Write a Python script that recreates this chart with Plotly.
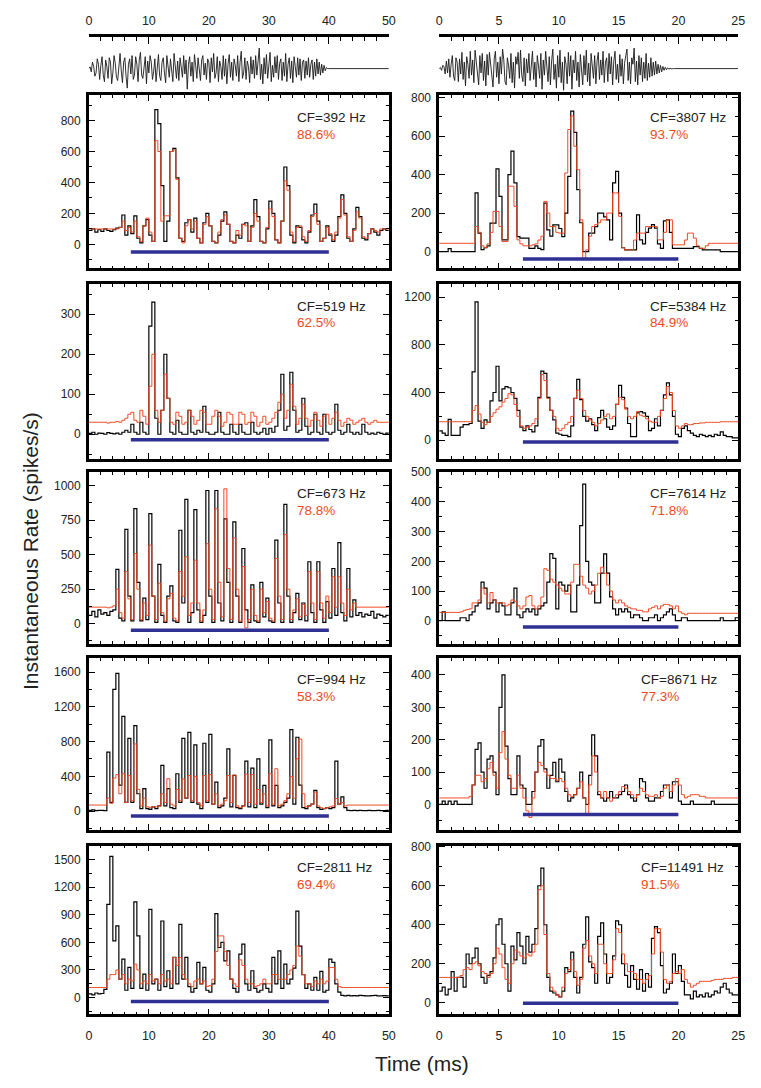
import numpy as np
import plotly.graph_objects as go

FONT = "Liberation Sans, Arial, sans-serif"
RED = "#F04A24"
BLUE = "#2E3192"

# ---------------- data ----------------
cf_left = ["CF=392 Hz", "CF=519 Hz", "CF=673 Hz", "CF=994 Hz", "CF=2811 Hz"]
pct_left = ["88.6%", "62.5%", "78.8%", "58.3%", "69.4%"]
cf_right = ["CF=3807 Hz", "CF=5384 Hz", "CF=7614 Hz", "CF=8671 Hz", "CF=11491 Hz"]
pct_right = ["93.7%", "84.9%", "71.8%", "77.3%", "91.5%"]

bin_left = 0.5   # ms
bin_right = 0.25  # ms
stim_bar_left = [7, 40]
stim_bar_right = [7, 20]

L1_black = [90,100,80,95,85,100,90,85,95,105,
            110,190,60,120,70,185,40,10,120,160,
            60,20,870,780,380,20,150,600,620,430,
            40,20,140,160,80,170,40,10,140,200,
            120,20,10,60,150,210,130,20,10,60,
            40,130,140,20,120,290,180,20,10,100,
            280,200,30,10,150,500,380,60,10,120,
            110,30,10,80,190,260,150,20,40,120,
            60,20,60,180,320,200,40,20,100,240,
            180,40,30,70,100,80,60,90,100,90]
L1_red = [100,100,100,100,100,100,100,100,100,100,
          110,150,90,110,80,150,50,20,120,170,
          80,20,670,600,150,185,185,600,610,420,
          40,10,120,160,100,150,40,10,130,180,
          120,20,10,80,160,190,130,20,10,90,
          60,130,120,20,110,200,150,20,10,110,
          230,180,30,10,150,410,350,80,20,110,
          120,50,20,90,180,200,130,20,40,110,
          70,30,80,170,290,190,50,20,90,210,
          170,50,40,70,100,90,80,100,100,100]

L2_black = [2,5,0,3,2,0,4,2,1,3,
            0,5,10,5,25,5,0,30,5,0,
            270,330,40,0,60,200,90,5,0,35,
            5,0,0,60,5,0,10,5,70,5,
            0,0,5,55,5,0,0,25,5,0,
            25,5,0,0,30,5,0,5,15,0,
            15,5,20,60,150,10,20,155,60,5,
            10,90,20,0,5,50,5,0,50,5,
            0,5,75,10,0,5,25,5,0,5,
            0,25,5,0,3,0,5,2,0,3]
L2_red = [30,30,30,30,30,30,28,30,30,32,
          30,35,40,50,55,35,30,60,45,25,
          120,200,60,30,60,150,90,30,25,55,
          45,25,30,60,45,25,35,60,55,25,
          25,45,60,45,20,30,55,50,25,25,
          55,50,25,30,55,45,20,30,45,25,
          30,40,55,80,100,40,60,125,70,25,
          40,75,40,20,35,55,35,20,45,50,
          25,40,55,35,20,30,40,35,25,30,
          35,40,30,25,30,35,30,30,30,30]

L3_black = [60,90,50,100,70,80,60,90,100,394,
            40,20,684,200,20,833,300,20,185,30,
            797,200,10,430,60,10,200,274,20,10,
            677,150,900,10,80,826,100,10,60,965,
            200,10,965,150,20,760,300,10,737,200,
            10,545,100,10,281,20,10,300,50,185,
            20,10,605,150,10,864,200,10,80,220,
            30,150,20,449,80,10,449,100,10,160,
            40,400,60,588,80,20,400,50,173,60,
            80,50,70,60,90,40,70,60,50,60]
L3_red = [120,120,120,120,120,120,115,120,130,250,
          80,40,377,180,30,508,250,30,150,60,
          569,200,30,293,80,20,180,220,40,20,
          377,200,485,60,150,460,150,20,100,580,
          250,30,833,300,50,977,400,30,622,250,
          20,413,-30,30,250,60,20,250,80,160,
          40,20,473,200,30,645,250,30,100,180,
          50,140,60,377,150,30,377,150,40,200,
          80,340,120,340,150,60,250,100,150,120,
          120,120,120,120,120,120,120,120,120,120]

L4_black = [10,15,5,10,10,5,678,100,1400,1585,
            300,1090,100,838,100,983,200,30,260,30,
            20,50,30,60,526,60,260,40,30,430,
            100,838,150,907,100,762,80,30,781,100,
            884,80,335,40,60,150,716,50,411,40,
            30,60,575,50,495,40,602,80,297,40,
            819,60,297,40,60,100,150,937,80,850,
            300,40,30,60,80,240,40,20,30,40,
            30,40,575,80,164,40,10,5,10,5,
            10,5,5,10,5,5,10,5,5,10]
L4_red = [70,70,70,70,70,70,150,90,380,420,
          200,430,100,410,120,773,250,60,150,50,
          40,50,50,60,200,100,373,80,60,250,
          120,370,150,410,120,400,100,60,410,120,
          420,80,200,60,80,120,410,100,415,60,
          40,60,425,100,420,80,250,100,200,60,
          430,80,488,60,80,120,200,400,150,602,
          830,200,50,60,80,220,60,40,30,40,
          50,60,145,80,100,60,70,70,70,70,
          70,70,70,70,70,70,70,70,70,70]

L5_black = [40,30,50,40,45,90,1012,1534,616,778,
            200,418,80,328,100,1040,670,100,256,80,
            958,150,200,80,832,120,292,100,436,150,
            796,200,436,120,60,100,382,150,328,80,
            60,150,911,544,600,400,508,200,100,60,
            472,580,150,80,292,100,60,80,150,100,
            60,436,150,508,100,364,150,200,320,940,
            560,250,100,150,80,220,80,284,60,80,
            418,382,150,60,25,20,25,20,22,20,
            25,22,20,20,22,25,20,20,22,20]
L5_red = [110,110,110,110,110,110,200,250,250,300,
          200,250,150,200,180,364,300,150,180,150,
          250,180,200,150,250,180,200,150,436,350,
          436,250,200,150,120,180,200,150,180,120,
          130,200,500,670,670,500,350,200,150,120,
          410,350,200,150,150,120,130,150,200,150,
          150,250,250,200,200,200,250,300,350,560,
          450,250,150,150,120,180,150,200,150,180,
          328,328,200,120,110,110,110,110,110,110,
          110,110,110,110,110,110,110,110,110,110]

R1_black = [0,0,0,15,0,0,0,0,0,0,
            0,0,305,96,10,20,30,148,148,430,
            287,61,61,400,522,357,78,70,70,70,
            17,17,30,17,10,252,113,80,139,139,
            120,78,200,391,730,620,322,150,0,0,
            96,96,130,200,200,180,165,61,357,417,
            200,20,9,9,9,9,191,61,40,100,
            122,140,122,40,17,160,165,100,17,17,
            17,17,17,17,17,26,26,17,9,9,
            9,9,9,9,0,0,0,0,0,0]
R1_red = [43,43,43,43,43,43,43,43,43,43,
          43,43,130,100,30,20,40,100,209,209,
          130,52,52,340,340,235,61,40,30,30,
          30,35,40,60,80,261,200,130,130,100,
          96,96,409,635,705,548,426,165,-35,9,
          80,130,140,150,165,165,200,200,305,305,
          183,20,9,9,9,60,96,96,96,130,
          130,130,130,61,61,100,165,165,35,35,
          35,35,60,96,96,70,30,17,17,30,
          43,43,43,43,43,43,43,43,43,43]

R2_black = [78,60,40,175,40,40,40,110,130,130,
            140,573,1160,160,100,170,150,330,400,620,
            330,430,450,440,400,350,250,110,80,120,
            90,70,120,360,580,560,360,250,170,60,
            50,40,40,30,120,350,510,340,200,160,
            180,130,80,190,250,180,110,90,120,300,
            460,360,270,140,30,30,230,240,230,200,
            80,100,180,120,250,380,480,380,200,50,
            30,100,120,80,60,40,30,50,40,30,
            40,30,50,40,70,40,30,30,20,20]
R2_red = [155,155,155,155,155,155,155,155,155,155,
          155,250,290,220,150,130,150,200,230,260,
          280,320,350,390,380,300,200,120,100,110,
          120,140,180,350,550,500,350,250,200,100,
          80,100,130,150,200,350,420,350,250,200,
          170,150,120,140,170,200,220,180,200,300,
          360,340,260,200,180,200,240,210,200,180,
          160,150,150,200,250,350,450,400,250,120,
          100,120,140,130,130,140,140,145,145,150,
          150,150,150,150,155,155,155,155,155,155]

R3_black = [0,30,0,0,0,0,0,10,10,0,
            20,30,50,60,130,110,40,60,70,30,
            60,50,20,20,60,110,20,10,30,40,
            30,40,20,40,50,60,130,226,210,40,
            130,120,100,120,30,30,120,320,460,200,
            130,120,60,60,160,225,160,80,40,20,
            40,30,40,30,10,20,20,10,0,0,
            10,10,20,0,10,20,30,40,20,0,
            0,10,10,0,0,0,0,0,0,0,
            0,0,0,0,10,0,0,0,0,10]
R3_red = [28,28,28,28,28,28,28,30,35,38,
          40,60,60,70,110,90,60,95,70,60,
          60,60,50,55,70,65,50,40,50,80,
          85,50,40,50,80,175,170,140,130,120,
          110,100,90,90,130,190,190,150,120,110,
          90,100,120,160,180,160,120,100,70,60,
          70,60,50,45,40,40,35,35,30,30,
          40,45,50,40,50,55,55,50,40,50,
          30,25,20,25,25,25,25,25,25,25,
          25,25,25,25,25,25,25,25,25,25]

R4_black = [0,10,0,10,0,10,0,0,0,0,
            0,60,170,190,100,50,140,150,100,30,
            300,400,180,80,30,30,150,60,50,0,
            0,40,100,180,200,110,50,90,130,70,
            140,100,40,10,20,30,50,100,20,0,
            90,215,150,30,20,10,20,40,20,20,
            30,40,60,30,20,10,30,80,70,20,
            10,10,20,20,40,60,60,20,70,70,
            10,0,0,0,10,0,0,0,0,0,
            0,10,0,0,0,0,0,0,0,0]
R4_red = [20,20,20,20,20,20,20,20,20,20,
          25,60,90,90,70,80,110,130,90,50,
          160,225,140,90,50,50,90,50,20,-20,
          -40,20,100,130,120,100,90,80,80,75,
          80,70,50,30,25,30,50,70,20,-30,
          60,150,100,40,20,40,20,10,20,30,
          40,55,50,40,30,20,30,50,40,30,
          25,25,30,20,25,50,60,40,60,80,
          60,30,20,25,30,30,30,25,25,20,
          20,20,20,20,20,20,20,20,20,20]

R5_black = [60,80,40,70,160,60,130,130,80,250,
            200,230,280,200,130,100,140,160,230,400,
            430,300,200,60,290,220,360,290,200,340,
            260,300,380,600,690,400,130,60,50,40,
            30,60,180,160,260,130,50,130,300,440,
            210,180,100,340,410,250,100,130,240,420,
            400,200,140,80,190,120,70,170,60,150,
            80,330,390,360,190,50,70,100,250,150,
            190,110,40,40,20,60,30,40,30,50,
            30,40,60,50,80,100,70,50,40,40]
R5_red = [130,130,130,130,130,130,130,140,170,180,
          170,200,210,190,160,150,130,150,200,280,
          250,180,120,100,200,270,260,240,230,250,
          240,260,300,580,600,350,150,80,60,40,
          30,80,150,170,220,160,90,120,280,320,
          240,200,150,300,300,200,150,150,220,380,
          360,250,200,160,160,150,120,120,100,120,
          140,250,380,380,260,120,100,110,150,160,
          150,170,120,100,80,90,100,110,110,110,
          110,115,120,120,120,125,125,125,130,130]

# stimulus waveforms (arbitrary units)
wave_left_dt = 0.2
wave_left = [0,0.08,-0.15,0.3,0.1,-0.35,-0.2,0.45,0.2,-0.5,0.15,0.55,-0.3,-0.6,0.4,0.1,-0.45,0.5,0.3,-0.7,
             -0.2,0.6,0.25,-0.4,-0.55,0.35,0.7,-0.1,-0.65,0.3,0.5,-0.35,-0.9,0.2,0.45,-0.25,0.6,-0.5,-0.3,0.55,
             0.2,-0.6,0.4,0.75,-0.3,-0.45,0.1,0.55,-0.7,0.35,-0.2,0.6,0.3,-0.5,-0.15,0.45,-0.6,0.25,0.65,-0.35,
             -0.55,0.3,0.5,-0.2,-0.65,0.6,0.15,-0.4,0.45,-0.3,-0.6,0.7,0.2,-0.45,0.35,-0.55,0.5,0.1,-0.4,0.6,
             -0.25,0.4,-0.95,0.2,0.55,-0.35,0.3,-0.6,0.65,0.15,-0.45,0.5,-0.2,-0.55,0.4,0.6,-0.3,0.25,-0.5,0.45,
             0.3,-0.65,0.5,-0.15,0.7,-0.45,-0.2,0.55,-0.6,0.35,0.1,-0.5,0.6,-0.35,0.45,-0.7,0.2,0.65,-0.4,0.3,
             -0.55,0.45,0.15,-0.35,0.6,-0.6,0.3,0.8,-0.45,-0.2,0.5,-0.5,0.35,0.1,-0.65,0.55,-0.25,0.4,-0.45,0.6,
             -0.3,0.35,0.95,-0.5,0.2,-0.7,0.5,-0.25,0.65,-0.45,0.3,0.75,-0.6,0.15,-0.4,0.55,-0.2,0.6,-0.5,0.25,
             0.45,-0.55,0.3,-0.35,0.7,-0.6,0.2,0.5,-0.45,0.35,-0.65,0.55,0.1,-0.4,0.5,-0.3,0.45,-0.55,0.3,0.4,
             -0.45,0.35,-0.3,0.5,-0.4,0.2,0.4,-0.5,0.3,-0.35,0.45,-0.25,0.3,-0.3,0.2,-0.2,0.15,-0.1,0.05,0]
wave_right_dt = 0.1
wave_right = [0,0.05,-0.08,0.15,0.1,-0.25,0.35,-0.2,0.45,-0.4,0.2,0.6,-0.35,-0.55,0.5,0.3,-0.6,0.45,-0.25,0.75,
              -0.5,0.3,-0.8,0.55,0.2,-0.45,0.8,-0.3,0.4,-0.65,0.85,0.2,-0.5,-0.75,0.6,-0.2,0.7,-0.55,0.35,-0.8,
              0.65,-0.3,0.75,0.2,-0.6,-0.85,0.45,0.8,-0.4,0.3,-0.7,0.55,-0.25,0.9,0.4,-0.6,-0.75,0.5,0.15,-0.45,
              0.7,-0.65,0.3,-0.9,0.55,0.2,0.75,-0.45,0.85,-0.3,-0.6,0.5,-0.8,0.45,-0.2,0.7,-0.55,0.35,0.8,-0.5,
              0.3,-0.85,0.6,0.15,-0.45,0.7,-0.95,0.4,-0.3,0.8,0.25,-0.6,0.55,-0.75,0.35,0.9,-0.5,0.2,-0.9,0.6,
              -0.4,0.85,-0.65,0.3,-1.0,0.55,0.2,-0.7,0.75,-0.35,0.6,-0.95,0.4,-0.2,0.8,-0.55,0.3,-0.85,0.65,0.1,
              -0.75,0.6,-0.3,0.85,-0.6,0.25,-0.8,0.7,0.2,-0.45,0.6,-0.7,0.35,0.75,-0.5,0.4,-0.3,0.8,-0.65,0.3,
              0.5,-0.6,0.7,-0.25,0.55,-0.75,0.35,0.8,-0.5,0.2,-0.65,0.65,-0.35,0.45,-0.7,0.25,0.6,0.9,-0.55,0.3,
              -0.7,0.5,0.2,0.95,-0.6,0.35,-0.75,0.6,-0.3,0.5,-0.6,0.3,-0.45,0.7,-0.55,0.25,-0.4,0.5,-0.35,0.3,
              -0.3,0.35,-0.25,0.2,-0.2,0.15,-0.15,0.1,-0.08,0.06,-0.05,0.04,-0.03,0.02,-0.01,0.01,0,0,0,0]

left_black = [L1_black, L2_black, L3_black, L4_black, L5_black]
left_red = [L1_red, L2_red, L3_red, L4_red, L5_red]
right_black = [R1_black, R2_black, R3_black, R4_black, R5_black]
right_red = [R1_red, R2_red, R3_red, R4_red, R5_red]

# axis settings per row: (range, dtick, minor dtick, bar level)
left_axes = [([-154, 962], 200, 100, -49),
             ([-62, 375], 100, 50, -14),
             ([-146, 1099], 250, 125, -48),
             ([-213, 1764], 400, 200, -57),
             ([-183, 1651], 300, 150, -43)]
right_axes = [([-87, 812], 200, 100, -38),
              ([-158, 1308], 400, 200, -15),
              ([-78, 501], 100, 50, -21),
              ([-78, 453], 100, 50, -31),
              ([-60, 806], 200, 100, -3)]

# ---------------- layout geometry ----------------
W, H = 761, 1088
def py(px):
    return 1 - px / H

left_dom = [87 / W, 391 / W]
right_dom = [442 / W, 745 / W]
rows_px = [(89, 263), (279, 455), (468, 641), (655, 828), (844, 1014)]
wave_px = (30, 90)

fig = go.Figure()
layout = dict(width=W, height=H, margin=dict(l=0, r=0, t=0, b=0),
              paper_bgcolor="white", plot_bgcolor="white", showlegend=False,
              font=dict(family=FONT, color="#222"))

tickfont = dict(family=FONT, size=12, color="#222")

def step_xy(vals, bw):
    x = np.arange(len(vals) + 1) * bw
    y = list(vals) + [vals[-1]]
    return x, y

# ---- waveforms with top axis ----
for k, (wave, dt, dom, xmax, dtk, mn) in enumerate([
        (wave_left, wave_left_dt, left_dom, 50, 10, 2),
        (wave_right, wave_right_dt, right_dom, 25, 5, 1)]):
    n = k + 1
    sfx = str(n) if n > 1 else ""
    xs = list(np.arange(len(wave)) * dt) + [len(wave) * dt, xmax]
    ys = list(wave) + [0, 0]
    fig.add_trace(go.Scatter(x=xs, y=ys, mode="lines",
                             line=dict(color="#1a1a1a", width=0.9),
                             xaxis=f"x{sfx}", yaxis=f"y{sfx}", hoverinfo="skip"))
    layout[f"xaxis{sfx}"] = dict(
        domain=dom, range=[0, xmax], side="top", anchor=f"y{sfx}",
        showline=True, linewidth=3, linecolor="black", ticks="inside", ticklen=7,
        tickwidth=1.2, tickcolor="black", dtick=dtk, tick0=0, showgrid=False,
        zeroline=False, ticklabelstandoff=4,
        tickfont=dict(family=FONT, size=12.5, color="#222"),
        minor=dict(dtick=mn, ticklen=4, ticks="inside", tickcolor="black", tickwidth=1))
    layout[f"yaxis{sfx}"] = dict(
        domain=[py(wave_px[1]), py(wave_px[0])], range=[-1.283, 1.467],
        visible=False, anchor=f"x{sfx}")

annotations = []

# ---- PSTH panels ----
for r in range(5):
    top, bot = rows_px[r]
    for c in range(2):
        idx = 3 + 2 * r + c
        if c == 0:
            blk, red, bw, dom, xmax, dtk, mn = left_black[r], left_red[r], bin_left, left_dom, 50, 10, 2
            yr, ydt, ymn, bar_y = left_axes[r]
            bar = stim_bar_left
            cf, pc = cf_left[r], pct_left[r]
            tx = 296
        else:
            blk, red, bw, dom, xmax, dtk, mn = right_black[r], right_red[r], bin_right, right_dom, 25, 5, 1
            yr, ydt, ymn, bar_y = right_axes[r]
            bar = stim_bar_right
            cf, pc = cf_right[r], pct_right[r]
            tx = 654 if r < 3 else 644
        xa, ya = f"x{idx}", f"y{idx}"
        xb, yb = step_xy(blk, bw)
        fig.add_trace(go.Scatter(x=xb, y=yb, mode="lines", line_shape="hv",
                                 line=dict(color="black", width=1.2),
                                 xaxis=xa, yaxis=ya, hoverinfo="skip"))
        xr, yr_ = step_xy(red, bw)
        fig.add_trace(go.Scatter(x=xr, y=yr_, mode="lines", line_shape="hv",
                                 line=dict(color=RED, width=1.0),
                                 xaxis=xa, yaxis=ya, hoverinfo="skip"))
        fig.add_trace(go.Scatter(x=bar, y=[bar_y, bar_y], mode="lines",
                                 line=dict(color=BLUE, width=3.5),
                                 xaxis=xa, yaxis=ya, hoverinfo="skip"))
        layout[f"xaxis{idx}"] = dict(
            domain=dom, range=[0, xmax], anchor=ya, showline=True, linewidth=2.5,
            linecolor="black", mirror="ticks", ticks="inside", ticklen=6, tickwidth=1.2,
            tickcolor="black", dtick=dtk, tick0=0, showgrid=False, zeroline=False,
            showticklabels=(r == 4), ticklabelstandoff=8,
            tickfont=dict(family=FONT, size=12.5, color="#222"),
            minor=dict(dtick=mn, ticklen=3, ticks="inside", tickcolor="black", tickwidth=1))
        layout[f"yaxis{idx}"] = dict(
            domain=[py(bot), py(top)], range=yr, anchor=xa, showline=True, linewidth=2.5,
            linecolor="black", mirror="ticks", ticks="inside", ticklen=6, tickwidth=1.2,
            tickcolor="black", dtick=ydt, tick0=0, showgrid=False, zeroline=False,
            tickfont=tickfont, ticklabelstandoff=3,
            minor=dict(dtick=ymn, ticklen=3, ticks="inside", tickcolor="black", tickwidth=1))
        annotations.append(dict(x=tx / W, y=py(top + 22), xref="paper", yref="paper",
                                text=cf, showarrow=False, xanchor="left", yanchor="middle",
                                font=dict(family=FONT, size=13.5, color="#222")))
        annotations.append(dict(x=tx / W, y=py(top + 39), xref="paper", yref="paper",
                                text=pc, showarrow=False, xanchor="left", yanchor="middle",
                                font=dict(family=FONT, size=13.5, color=RED)))

annotations.append(dict(x=28 / W, y=py(548), xref="paper", yref="paper",
                        text="Instantaneous Rate (spikes/s)", textangle=-90, showarrow=False,
                        xanchor="center", yanchor="middle",
                        font=dict(family=FONT, size=21, color="#222")))
annotations.append(dict(x=425 / W, y=py(1063), xref="paper", yref="paper",
                        text="Time (ms)", showarrow=False, xanchor="center", yanchor="middle",
                        font=dict(family=FONT, size=21, color="#222")))
layout["annotations"] = annotations

fig.update_layout(**layout)
fig.write_html("out.html", config={"displayModeBar": False},
               post_script="document.body.style.margin='0';document.body.style.overflow='hidden';")
